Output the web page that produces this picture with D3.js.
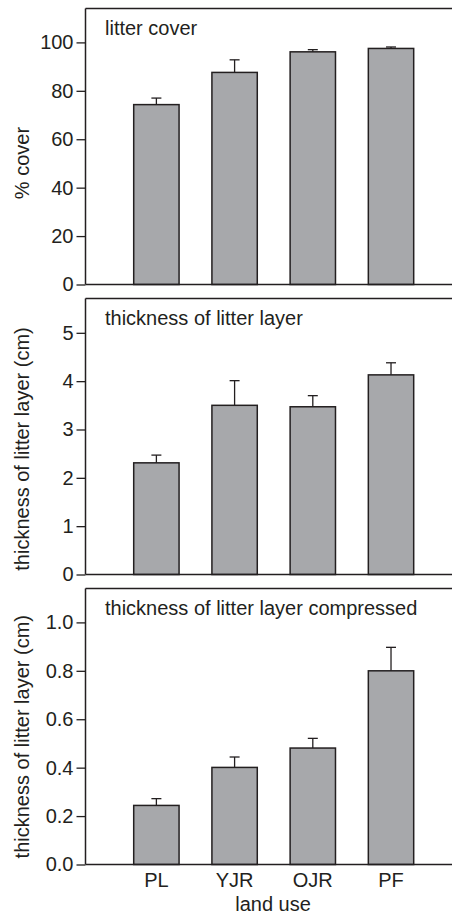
<!DOCTYPE html>
<html>
<head>
<meta charset="utf-8">
<script src="https://cdn.jsdelivr.net/npm/d3@7"></script>
<style>
  html, body { margin: 0; padding: 0; background: #fff; }
  svg { display: block; }
  text { font-family: "Liberation Sans", Arial, Helvetica, sans-serif; fill: #231f20; }
</style>
</head>
<body>
<svg id="chart" width="452" height="916"></svg>
<script>
const categories = ["PL", "YJR", "OJR", "PF"];

const coverMean = [74.3, 87.6, 96.1, 97.5];
const coverErr  = [77.0, 92.8, 97.0, 98.1];
const coverTicks = [0, 20, 40, 60, 80, 100];

const thickMean = [2.31, 3.50, 3.47, 4.13];
const thickErr  = [2.47, 4.01, 3.70, 4.38];
const thickTicks = [0, 1, 2, 3, 4, 5];

const compMean = [0.244, 0.401, 0.481, 0.80];
const compErr  = [0.272, 0.444, 0.521, 0.897];
const compTicks = [0.0, 0.2, 0.4, 0.6, 0.8, 1.0];

const panels = [
  { title: "litter cover", ylabel: "% cover", mean: coverMean, err: coverErr, ticks: coverTicks, max: 114, fmt: d3.format("d"), labelY: 163 },
  { title: "thickness of litter layer", ylabel: "thickness of litter layer (cm)", mean: thickMean, err: thickErr, ticks: thickTicks, max: 5.71, fmt: d3.format("d"), labelY: 449 - 290 },
  { title: "thickness of litter layer compressed", ylabel: "thickness of litter layer (cm)", mean: compMean, err: compErr, ticks: compTicks, max: 1.14, fmt: d3.format(".1f"), labelY: 736.7 - 580 }
];

const svg = d3.select("#chart");
const ink = "#231f20";
const frameLeft = 85.5, frameRight = 452;
const panelTop0 = 8.5, panelH = 276, panelStep = 290;

const x = d3.scaleBand().domain(categories).range([94.6, 452.8]).paddingInner(0.42).paddingOuter(0.5);

panels.forEach((p, i) => {
  const top = panelTop0 + i * panelStep;
  const bottom = top + panelH;
  const g = svg.append("g");
  const y = d3.scaleLinear().domain([0, p.max]).range([bottom, top]);

  // frame top line
  g.append("line").attr("x1", frameLeft).attr("x2", frameRight).attr("y1", top).attr("y2", top)
    .attr("stroke", ink).attr("stroke-width", 1.5);

  // bars
  g.selectAll("rect.bar").data(categories).enter().append("rect")
    .attr("class", "bar")
    .attr("x", d => x(d))
    .attr("width", x.bandwidth())
    .attr("y", (d, j) => y(p.mean[j]))
    .attr("height", (d, j) => y(0) - y(p.mean[j]))
    .attr("fill", "#a7a8ab")
    .attr("stroke", ink).attr("stroke-width", 1.5);

  // error bars
  const eg = g.selectAll("g.err").data(categories).enter().append("g").attr("class", "err");
  eg.append("line")
    .attr("x1", d => x(d) + x.bandwidth() / 2).attr("x2", d => x(d) + x.bandwidth() / 2)
    .attr("y1", (d, j) => y(p.mean[j])).attr("y2", (d, j) => y(p.err[j]))
    .attr("stroke", ink).attr("stroke-width", 1.3);
  eg.append("line")
    .attr("x1", d => x(d) + x.bandwidth() / 2 - 5).attr("x2", d => x(d) + x.bandwidth() / 2 + 5)
    .attr("y1", (d, j) => y(p.err[j])).attr("y2", (d, j) => y(p.err[j]))
    .attr("stroke", ink).attr("stroke-width", 1.3);

  // y axis
  const yAxis = d3.axisLeft(y).tickValues(p.ticks).tickFormat(p.fmt).tickSize(9).tickPadding(3).tickSizeOuter(0);
  const ya = g.append("g").attr("transform", `translate(${frameLeft},0)`).call(yAxis);
  ya.select(".domain").attr("d", `M0,${top}V${bottom}`).attr("stroke", ink).attr("stroke-width", 1.5);
  ya.selectAll(".tick line").attr("stroke", ink).attr("stroke-width", 1.3);
  ya.selectAll(".tick text").attr("font-size", 20).attr("fill", ink)
    .attr("font-family", "'Liberation Sans', Arial, sans-serif");

  // bottom axis line
  g.append("line").attr("x1", frameLeft).attr("x2", frameRight).attr("y1", bottom).attr("y2", bottom)
    .attr("stroke", ink).attr("stroke-width", 1.5);

  // title
  g.append("text").attr("x", 105).attr("y", top + 26).attr("font-size", 20).text(p.title);

  // y label
  g.append("text")
    .attr("transform", `translate(29,${p.labelY + i * panelStep}) rotate(-90)`)
    .attr("text-anchor", "middle").attr("font-size", 20).text(p.ylabel);

  if (i === panels.length - 1) {
    const xAxis = d3.axisBottom(x).tickSize(0).tickPadding(8);
    const xa = g.append("g").attr("transform", `translate(0,${bottom})`).call(xAxis);
    xa.select(".domain").remove();
    xa.selectAll(".tick text").attr("font-size", 20).attr("fill", ink)
      .attr("font-family", "'Liberation Sans', Arial, sans-serif");
    g.append("text").attr("x", 273).attr("y", 911).attr("text-anchor", "middle").attr("font-size", 20).text("land use");
  }
});
</script>
</body>
</html>
